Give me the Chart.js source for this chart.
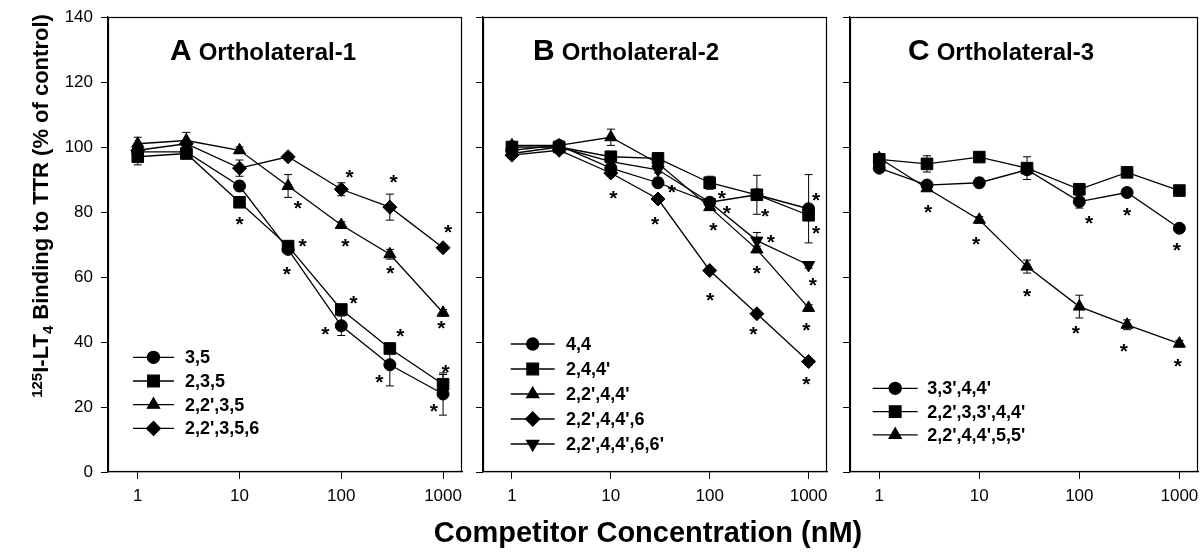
<!DOCTYPE html>
<html><head><meta charset="utf-8">
<script src="https://cdn.jsdelivr.net/npm/chart.js@4.4.1/dist/chart.umd.min.js"></script>
<style>
body{margin:0;background:#fff;width:1203px;height:555px;overflow:hidden;position:relative;font-family:"Liberation Sans",Arial,sans-serif;}
canvas{position:absolute;top:0;}
#ytitle{position:absolute;left:-159px;top:195px;width:400px;height:22px;line-height:22px;font-size:22px;font-weight:bold;text-align:center;white-space:nowrap;transform:rotate(-90deg);color:#000;}
#ytitle sup{font-size:15px;vertical-align:6px;line-height:0;}
#ytitle sub{font-size:15px;vertical-align:-5px;line-height:0;}
#xtitle{position:absolute;left:348px;top:518px;width:600px;font-size:29px;line-height:28px;font-weight:bold;text-align:center;white-space:nowrap;color:#000;}
</style></head><body>
<canvas id="cA" width="470" height="520" style="left:0px"></canvas>
<canvas id="cB" width="360" height="520" style="left:470px"></canvas>
<canvas id="cC" width="367" height="520" style="left:836px"></canvas>
<div id="ytitle"><sup>125</sup>I-LT<sub>4</sub> Binding to TTR (% of control)</div>
<div id="xtitle">Competitor Concentration (nM)</div>
<script>
// ---------- data ----------
const concentrations = [1, 3, 10, 30, 100, 300, 1000];
const xTickValues = [1, 10, 100, 1000];

// Panel A: Ortholateral-1
const labelsA = ['3,5', '2,3,5', "2,2',3,5", "2,2',3,5,6"];
const a_35      = [98.5, 98.5, 88, 68.5, 45, 33, 24];
const a_235     = [97, 98, 83, 69.5, 50, 38, 27];
const a_2235    = [101, 102, 99, 88, 76, 67, 49];
const a_22356   = [99, 101, 93.5, 97, 87, 81.5, 69];
const a_35_err    = [1, 1, 1.5, 1, 3, 6.5, 6.5];
const a_235_err   = [2.5, 1.5, 1.5, 1, 1, 1, 3];
const a_2235_err  = [2, 2.5, 1, 3.5, 1, 1.5, 1];
const a_22356_err = [1.5, 1, 2.5, 1, 2, 4, 1];
const starsA_x = [10, 37.4, 41.6, 29.2, 120.7, 109.4, 327, 304, 1122, 132, 69.5, 381, 960, 237, 1059, 811];
const starsA_y = [78, 82.7, 71.2, 62.4, 92.4, 71.2, 90.9, 62.7, 75.5, 53.5, 44, 43.4, 45.8, 29.4, 32.3, 20.4];

// Panel B: Ortholateral-2
const labelsB = ['4,4', "2,4,4'", "2,2',4,4'", "2,2',4,4',6", "2,2',4,4',6,6'"];
const b_44      = [99, 100.5, 93.5, 89, 83, 85.3, 81];
const b_244     = [100, 100, 97, 96.5, 89, 85.3, 79];
const b_2244    = [100.5, 100.5, 103, 95, 81.5, 68.5, 50.5];
const b_22446   = [97.5, 99, 92, 84, 62, 48.7, 34];
const b_224466  = [98, 100, 95.5, 93, 83, 71.2, 63.7];
const b_44_err     = [1.5, 1, 1.5, 1.5, 1, 1, 10.5];
const b_244_err    = [1.5, 1.5, 1.5, 1.5, 2, 6, 1.5];
const b_2244_err   = [1, 1, 2.5, 1.5, 1, 1, 1];
const b_22446_err  = [1, 1, 1, 1, 1, 1, 1];
const b_224466_err = [1, 1, 1, 1, 1, 2.5, 1];
const starsB_x = [10.6, 28.1, 41.5, 133, 149, 109, 364, 416, 300, 1194, 1194, 1105, 101, 277, 946, 946];
const starsB_y = [86, 77.8, 87.8, 86, 81.2, 76, 80.4, 72.3, 62.7, 85.3, 75, 59.1, 54.5, 44, 45.3, 28.6];

// Panel C: Ortholateral-3
const labelsC = ["3,3',4,4'", "2,2',3,3',4,4'", "2,2',4,4',5,5'"];
const c_3344     = [93.5, 88.3, 89, 93, 83.2, 86, 75];
const c_223344   = [96.2, 94.8, 96.9, 93.5, 87, 92.2, 86.6];
const c_224455   = [96.6, 87.3, 77.6, 63.2, 50.9, 45.3, 39.5];
const c_3344_err   = [1, 1, 1.5, 1, 2, 1, 1];
const c_223344_err = [1, 2.5, 1, 3.5, 1, 1, 1];
const c_224455_err = [1, 1, 1, 2, 3.5, 1.5, 1];
const starsC_x = [3.07, 9.3, 125, 300, 944, 30, 92, 279, 966];
const starsC_y = [81.7, 71.6, 78.1, 80.7, 69.9, 55.8, 44.3, 38.8, 34.3];

// ---------- styles ----------
const FONT = '"Liberation Sans", Arial, sans-serif';
const markers = {
  circle:   {pointStyle: 'circle', pointRadius: 6, pointRotation: 0},
  square:   {pointStyle: 'rect', pointRadius: 8.2, pointRotation: 0},
  triangle: {pointStyle: 'triangle', pointRadius: 7, pointRotation: 0},
  diamond:  {pointStyle: 'rectRot', pointRadius: 7, pointRotation: 0},
  down:     {pointStyle: 'triangle', pointRadius: 7, pointRotation: 180}
};

function mk(label, values, errs, m) {
  return Object.assign({
    label: label,
    data: concentrations.map((c, i) => ({x: c, y: values[i]})),
    errors: errs,
    borderColor: '#000', backgroundColor: '#000',
    pointBackgroundColor: '#000', pointBorderColor: '#000',
    borderWidth: 1.3, pointBorderWidth: 1, tension: 0, clip: false
  }, m);
}

const frame = {id: 'frame', afterDraw(chart) {
  const {ctx, chartArea: a} = chart;
  ctx.save(); ctx.strokeStyle = '#000'; ctx.lineWidth = 1.2;
  ctx.strokeRect(Math.round(a.left) + 0.5, Math.round(a.top) + 0.5, Math.round(a.right - a.left) - 1, Math.round(a.bottom - a.top) - 1);
  ctx.restore();
}};

const errorBars = {id: 'errorBars', beforeDatasetsDraw(chart) {
  const ctx = chart.ctx, xs = chart.scales.x, ys = chart.scales.y;
  ctx.save(); ctx.strokeStyle = '#000'; ctx.lineWidth = 1;
  chart.data.datasets.forEach(ds => {
    if (!ds.errors) return;
    ds.data.forEach((p, i) => {
      const e = ds.errors[i]; if (!e) return;
      const x = xs.getPixelForValue(p.x);
      const y1 = ys.getPixelForValue(p.y + e), y2 = ys.getPixelForValue(p.y - e);
      ctx.beginPath();
      ctx.moveTo(x, y1); ctx.lineTo(x, y2);
      ctx.moveTo(x - 4, y1); ctx.lineTo(x + 4, y1);
      ctx.moveTo(x - 4, y2); ctx.lineTo(x + 4, y2);
      ctx.stroke();
    });
  });
  ctx.restore();
}};

function starsPlugin(sx, sy) {
  return {id: 'stars', afterDatasetsDraw(chart) {
    const ctx = chart.ctx, xs = chart.scales.x, ys = chart.scales.y;
    const fs = 21;
    ctx.save(); ctx.fillStyle = '#000'; ctx.font = 'bold ' + fs + 'px ' + FONT;
    ctx.textAlign = 'center'; ctx.textBaseline = 'alphabetic';
    sx.forEach((xv, i) => {
      ctx.fillText('*', xs.getPixelForValue(xv), ys.getPixelForValue(sy[i]) + 0.58 * fs);
    });
    ctx.restore();
  }};
}

function drawMarker(ctx, ds, x, y) {
  if (Chart.helpers && Chart.helpers.drawPoint) {
    Chart.helpers.drawPoint(ctx, {pointStyle: ds.pointStyle, rotation: ds.pointRotation || 0, radius: ds.pointRadius, borderWidth: 1}, x, y);
  }
}

function legendPlugin(cfg) {
  return {id: 'customLegend', afterDraw(chart) {
    const ctx = chart.ctx, a = chart.chartArea;
    ctx.save();
    chart.data.datasets.forEach((ds, i) => {
      const y = a.top + cfg.dy + i * cfg.gap;
      const x0 = a.left + cfg.dx;
      ctx.strokeStyle = '#000'; ctx.fillStyle = '#000'; ctx.lineWidth = 1.3;
      ctx.beginPath(); ctx.moveTo(x0, y); ctx.lineTo(x0 + cfg.len, y); ctx.stroke();
      drawMarker(ctx, ds, x0 + cfg.len / 2, y);
      ctx.font = 'bold 18px ' + FONT; ctx.textBaseline = 'middle'; ctx.textAlign = 'left';
      ctx.fillText(ds.label, a.left + cfg.textDx, y + 1);
    });
    ctx.restore();
  }};
}

function titlePlugin(letter, text, dx) {
  return {id: 'panelTitle', afterDraw(chart) {
    const ctx = chart.ctx, a = chart.chartArea;
    ctx.save(); ctx.fillStyle = '#000'; ctx.textBaseline = 'alphabetic'; ctx.textAlign = 'left';
    const x = a.left + dx, y = 60;
    ctx.font = 'bold 30px ' + FONT; ctx.fillText(letter, x, y);
    const w = ctx.measureText(letter).width;
    ctx.font = 'bold 24px ' + FONT; ctx.fillText(text, x + w + 7, y);
    ctx.restore();
  }};
}

function makeChart(id, datasets, opts) {
  return new Chart(document.getElementById(id), {
    type: 'line',
    data: {datasets: datasets},
    options: {
      responsive: false, animation: false, devicePixelRatio: 1,
      layout: {autoPadding: false, padding: {top: 17, right: opts.padRight, left: 0, bottom: 0}},
      plugins: {legend: {display: false}, tooltip: {enabled: false}, title: {display: false}},
      scales: {
        x: {
          type: 'logarithmic', min: 0.51, max: 1535,
          afterBuildTicks: s => { s.ticks = xTickValues.map(v => ({value: v})); },
          afterFit: s => { s.height = 48; s.paddingLeft = 0; s.paddingRight = 0; },
          ticks: {callback: v => String(v), color: '#000', font: {family: FONT, size: 17}, padding: 7, maxRotation: 0, autoSkip: false},
          grid: {drawOnChartArea: false, drawTicks: true, tickLength: 7, color: '#000', tickColor: '#000', tickWidth: 1},
          border: {display: true, color: '#000', width: 1.2}
        },
        y: {
          type: 'linear', min: 0, max: 140,
          afterFit: s => { s.width = opts.yWidth; s.paddingTop = 0; s.paddingBottom = 0; },
          ticks: {stepSize: 20, display: opts.yLabels, color: '#000', font: {family: FONT, size: 17}, padding: 8},
          grid: {drawOnChartArea: false, drawTicks: true, tickLength: 7, color: '#000', tickColor: '#000', tickWidth: 1},
          border: {display: true, color: '#000', width: 1.2}
        }
      }
    },
    plugins: [errorBars, frame, starsPlugin(opts.sx, opts.sy), legendPlugin(opts.legend), titlePlugin(opts.letter, opts.title, opts.titleDx)]
  });
}

makeChart('cA', [
  mk(labelsA[0], a_35, a_35_err, markers.circle),
  mk(labelsA[1], a_235, a_235_err, markers.square),
  mk(labelsA[2], a_2235, a_2235_err, markers.triangle),
  mk(labelsA[3], a_22356, a_22356_err, markers.diamond)
], {padRight: 8, yWidth: 108, yLabels: true, sx: starsA_x, sy: starsA_y,
    legend: {dx: 25, dy: 340.3, gap: 23.7, len: 41, textDx: 77}, letter: 'A', title: 'Ortholateral-1', titleDx: 62});

makeChart('cB', [
  mk(labelsB[0], b_44, b_44_err, markers.circle),
  mk(labelsB[1], b_244, b_244_err, markers.square),
  mk(labelsB[2], b_2244, b_2244_err, markers.triangle),
  mk(labelsB[3], b_22446, b_22446_err, markers.diamond),
  mk(labelsB[4], b_224466, b_224466_err, markers.down)
], {padRight: 3, yWidth: 13, yLabels: false, sx: starsB_x, sy: starsB_y,
    legend: {dx: 27.7, dy: 327, gap: 25, len: 44, textDx: 83}, letter: 'B', title: 'Ortholateral-2', titleDx: 50});

makeChart('cC', [
  mk(labelsC[0], c_3344, c_3344_err, markers.circle),
  mk(labelsC[1], c_223344, c_223344_err, markers.square),
  mk(labelsC[2], c_224455, c_224455_err, markers.triangle)
], {padRight: 5, yWidth: 14, yLabels: false, sx: starsC_x, sy: starsC_y,
    legend: {dx: 22.7, dy: 371.3, gap: 23.3, len: 45, textDx: 77.3}, letter: 'C', title: 'Ortholateral-3', titleDx: 58});
</script>
</body></html>
